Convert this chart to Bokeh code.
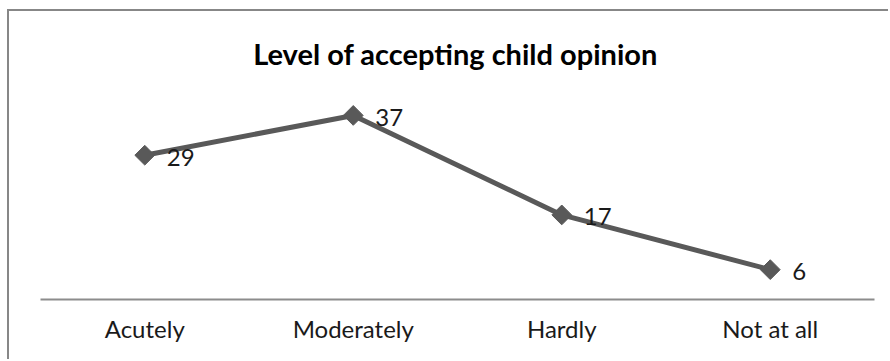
import math
from bokeh.plotting import figure
from bokeh.models import ColumnDataSource, Range1d, Label
from bokeh.embed import file_html
from bokeh.resources import INLINE
from bokeh.core.properties import value

# Survey responses: level of accepting a child's opinion
categories = ["Acutely", "Moderately", "Hardly", "Not at all"]
counts = [29, 37, 17, 6]
labels = [str(v) for v in counts]
chart_title = "Level of accepting child opinion"

source = ColumnDataSource(data=dict(cat=categories, count=counts, label=labels))

FONT = "Lato"
LINE_COLOR = "#595959"
AXIS_COLOR = "#8c8c8c"
W, H = 881, 350
BORDER_TOP, BORDER_BOTTOM = 9, 62

# The plot frame reaches up to the heading; the value range is stretched so
# that 0..40 keeps the same vertical scale as a 199px-tall frame would give.
frame_h = H - BORDER_TOP - BORDER_BOTTOM
y_end = 40 * frame_h / 199

p = figure(
    x_range=categories,
    y_range=Range1d(0, y_end),
    width=W,
    height=H,
    output_backend="svg",
    toolbar_location=None,
    min_border_left=31,
    min_border_right=16,
    min_border_top=BORDER_TOP,
    min_border_bottom=BORDER_BOTTOM,
    background_fill_color="white",
    border_fill_color="white",
)
p.outline_line_color = None

# Chart frame drawn as a border on the top and left edges of the page
p.styles = {
    "margin-left": "7px",
    "margin-top": "9px",
    "border-left": "2px solid #878787",
    "border-top": "2px solid #878787",
}

# Centred bold heading; screen units here count from the frame's lower-left corner
p.add_layout(Label(
    x=415, y=246, x_units="screen", y_units="screen",
    text=chart_title, text_align="center", text_baseline="middle",
    text_font=FONT, text_font_size="29px", text_font_style="bold",
    text_color="#000000",
))

p.line("cat", "count", source=source, line_color=LINE_COLOR, line_width=5)
# Diamond markers: squares turned by 45 degrees
p.scatter("cat", "count", source=source, marker="square", size=14, angle=math.pi / 4,
          fill_color=LINE_COLOR, line_color=LINE_COLOR)
p.text("cat", "count", text="label", source=source, x_offset=22, y_offset=2,
       text_baseline="middle", text_align="left", text_font=value(FONT),
       text_font_size="24px", text_color="#1a1a1a")

p.yaxis.visible = False
p.grid.visible = False

xa = p.xaxis[0]
xa.axis_line_color = AXIS_COLOR
xa.axis_line_width = 2
xa.major_tick_line_color = None
xa.minor_tick_line_color = None
xa.major_label_standoff = 8
xa.major_label_text_font = FONT
xa.major_label_text_font_size = "24px"
xa.major_label_text_color = "#1a1a1a"

open("out.html", "w").write(file_html(p, INLINE))
